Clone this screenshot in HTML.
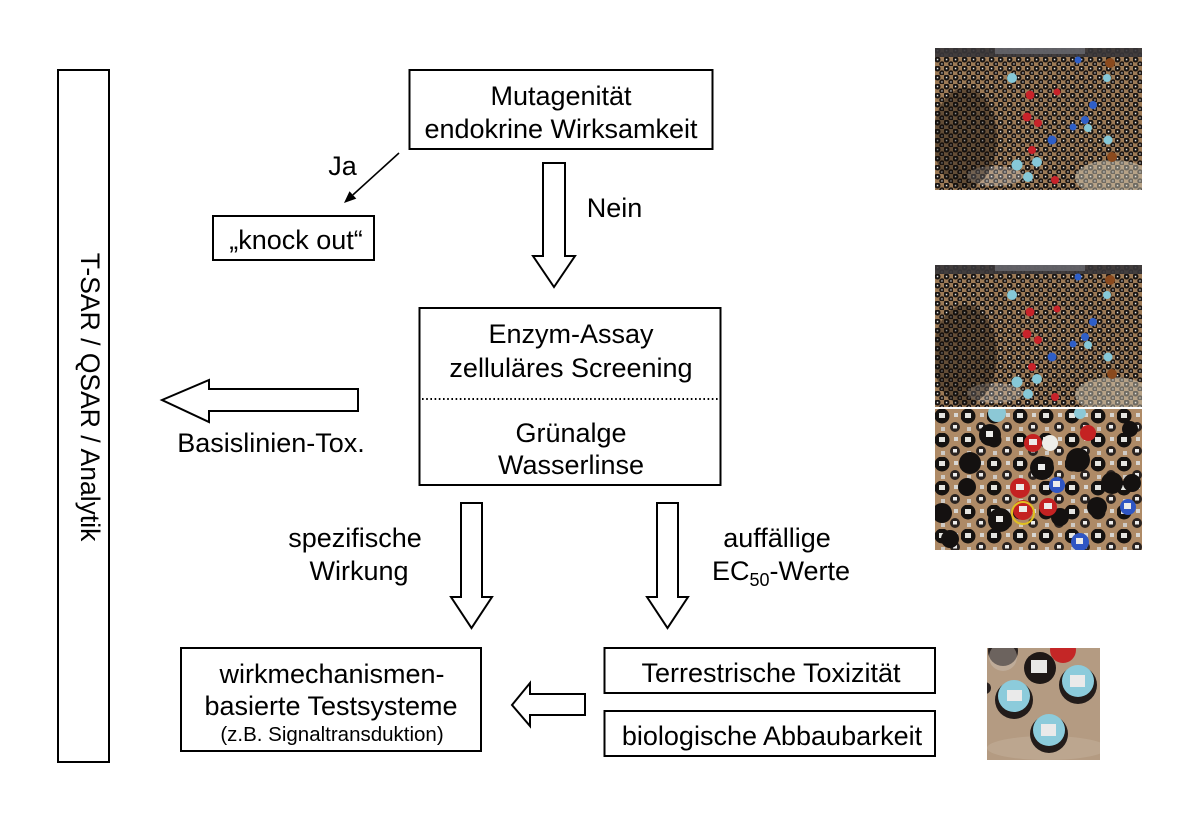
<!DOCTYPE html>
<html><head><meta charset="utf-8"><style>
html,body{margin:0;padding:0;background:#fff;}
svg{display:block;}
</style></head><body>
<svg width="1200" height="822" viewBox="0 0 1200 822" xmlns="http://www.w3.org/2000/svg" font-family="'Liberation Sans', Arial, sans-serif">
<defs>
<pattern id="pa" width="9" height="9" patternUnits="userSpaceOnUse">
 <rect width="9" height="9" fill="#9c7a56"/>
 <circle cx="2.5" cy="2.5" r="3.0" fill="#181412"/>
 <circle cx="7" cy="7" r="2.8" fill="#1e1815"/>
 <rect x="1.8" y="1.8" width="1.5" height="1.5" fill="#e6e6e6"/>
 <rect x="6.3" y="6.3" width="1.3" height="1.3" fill="#dcdcdc"/>
</pattern>
<pattern id="pb" width="26" height="24" patternUnits="userSpaceOnUse">
 <rect width="26" height="24" fill="#ae8a66"/>
 <circle cx="7" cy="7" r="7.5" fill="#151210"/>
 <rect x="4" y="4" width="6" height="5" fill="#e4e4e0"/>
 <circle cx="20" cy="18" r="5" fill="#2a2320"/>
 <rect x="18" y="16" width="4" height="3.5" fill="#ececec"/>
 <rect x="19" y="4" width="4" height="4" fill="#d8d6d2"/>
 <rect x="6" y="18" width="4" height="4" fill="#cfcac4"/>
</pattern>
<clipPath id="c1"><rect x="0" y="0" width="207" height="142"/></clipPath>
<clipPath id="c3"><rect x="0" y="0" width="207" height="141"/></clipPath>
<clipPath id="c4"><rect x="0" y="0" width="113" height="112"/></clipPath>
</defs>

<!-- Left vertical box -->
<rect x="58" y="70" width="51" height="692" fill="#fff" stroke="#000" stroke-width="2"/>
<text transform="translate(81,397) rotate(90)" text-anchor="middle" font-size="26.5">T-SAR / QSAR / Analytik</text>

<!-- Top box -->
<rect x="409.5" y="70" width="303" height="79" fill="#fff" stroke="#000" stroke-width="2"/>
<text x="561" y="105" text-anchor="middle" font-size="27">Mutagenität</text>
<text x="561" y="138" text-anchor="middle" font-size="27">endokrine Wirksamkeit</text>

<!-- Ja arrow -->
<line x1="399" y1="153" x2="352.9" y2="194.9" stroke="#000" stroke-width="1.6"/>
<polygon points="344,203 356.3,198.6 349.5,191.2" fill="#000"/>
<text x="342.5" y="175" text-anchor="middle" font-size="27">Ja</text>

<!-- knock out -->
<rect x="213" y="216" width="161" height="44" fill="#fff" stroke="#000" stroke-width="2"/>
<text x="296" y="249" text-anchor="middle" font-size="27">„knock out“</text>

<!-- Nein arrow -->
<polygon points="543,163 565,163 565,256 575,256 554,287 533,256 543,256" fill="#fff" stroke="#000" stroke-width="2" stroke-linejoin="miter"/>
<text x="614.5" y="217" text-anchor="middle" font-size="27">Nein</text>

<!-- Middle box -->
<rect x="419.5" y="308" width="301" height="177" fill="#fff" stroke="#000" stroke-width="2"/>
<text x="571" y="343" text-anchor="middle" font-size="27">Enzym-Assay</text>
<text x="571" y="377" text-anchor="middle" font-size="27">zelluläres Screening</text>
<line x1="422" y1="399" x2="719" y2="399" stroke="#000" stroke-width="2" stroke-dasharray="1.6 2.6"/>
<text x="571" y="442" text-anchor="middle" font-size="27">Grünalge</text>
<text x="571" y="474" text-anchor="middle" font-size="27">Wasserlinse</text>

<!-- Basislinien arrow -->
<polygon points="358,389 358,411 209,411 209,422 162,400 209,380 209,389" fill="#fff" stroke="#000" stroke-width="2"/>
<text x="271" y="452" text-anchor="middle" font-size="27">Basislinien-Tox.</text>

<!-- Down arrows -->
<polygon points="461,503 482,503 482,597 492,597 471.5,628 451,597 461,597" fill="#fff" stroke="#000" stroke-width="2"/>
<polygon points="657,503 678,503 678,597 688,597 667.5,628 647,597 657,597" fill="#fff" stroke="#000" stroke-width="2"/>
<text x="355" y="547" text-anchor="middle" font-size="27">spezifische</text>
<text x="359" y="580" text-anchor="middle" font-size="27">Wirkung</text>
<text x="777" y="547" text-anchor="middle" font-size="27">auffällige</text>
<text x="781" y="580" text-anchor="middle" font-size="27">EC<tspan font-size="18" dy="6">50</tspan><tspan dy="-6">-Werte</tspan></text>

<!-- Bottom left box -->
<rect x="181" y="648" width="300" height="103" fill="#fff" stroke="#000" stroke-width="2"/>
<text x="332" y="683" text-anchor="middle" font-size="27">wirkmechanismen-</text>
<text x="331" y="715" text-anchor="middle" font-size="27">basierte Testsysteme</text>
<text x="332" y="741" text-anchor="middle" font-size="20.5">(z.B. Signaltransduktion)</text>

<!-- Bottom left arrow -->
<polygon points="585,694 585,715 530,715 530,726 512,705 530,683 530,694" fill="#fff" stroke="#000" stroke-width="2"/>

<!-- Right boxes -->
<rect x="604.5" y="648" width="330.5" height="45" fill="#fff" stroke="#000" stroke-width="2"/>
<text x="771" y="682" text-anchor="middle" font-size="27">Terrestrische Toxizität</text>
<rect x="604.5" y="711" width="330.5" height="45" fill="#fff" stroke="#000" stroke-width="2"/>
<text x="772" y="745" text-anchor="middle" font-size="27">biologische Abbaubarkeit</text>

<!-- Photo 1 -->
<g transform="translate(935,48)" clip-path="url(#c1)">
 <rect width="207" height="142" fill="url(#pa)"/>
 <rect width="207" height="9" fill="#38363a" opacity="0.9"/>
 <rect x="60" y="0" width="90" height="6" fill="#6a6a70" opacity="0.8"/>
 <ellipse cx="178" cy="130" rx="38" ry="18" fill="#d8d2c4" opacity="0.45"/>
 <ellipse cx="60" cy="128" rx="28" ry="10" fill="#e8e8e8" opacity="0.3"/>
 <ellipse cx="30" cy="90" rx="32" ry="50" fill="#0e0a08" opacity="0.4"/>
 <g fill="#c8232a"><circle cx="95" cy="47" r="4.5"/><circle cx="92" cy="69" r="4.5"/><circle cx="103" cy="75" r="4"/><circle cx="97" cy="102" r="4"/><circle cx="122" cy="44" r="3.5"/><circle cx="120" cy="132" r="4"/></g>
 <g fill="#2f5fc8"><circle cx="143" cy="12" r="3.5"/><circle cx="158" cy="57" r="4"/><circle cx="150" cy="72" r="4"/><circle cx="117" cy="92" r="4.5"/><circle cx="138" cy="79" r="3.5"/></g>
 <g fill="#86c8d8"><circle cx="77" cy="30" r="5"/><circle cx="172" cy="30" r="4"/><circle cx="82" cy="117" r="5.5"/><circle cx="102" cy="114" r="5"/><circle cx="93" cy="129" r="5"/><circle cx="173" cy="92" r="4.5"/><circle cx="153" cy="80" r="4"/></g>
 <g fill="#8a4a1e"><circle cx="175" cy="15" r="5"/><circle cx="177" cy="109" r="5"/></g>
</g>

<!-- Photo 2 -->
<g transform="translate(935,265)" clip-path="url(#c1)">
 <rect width="207" height="142" fill="url(#pa)"/>
 <rect width="207" height="9" fill="#38363a" opacity="0.9"/>
 <rect x="60" y="0" width="90" height="6" fill="#6a6a70" opacity="0.8"/>
 <ellipse cx="178" cy="130" rx="38" ry="18" fill="#d8d2c4" opacity="0.45"/>
 <ellipse cx="60" cy="128" rx="28" ry="10" fill="#e8e8e8" opacity="0.3"/>
 <ellipse cx="30" cy="90" rx="32" ry="50" fill="#0e0a08" opacity="0.4"/>
 <g fill="#c8232a"><circle cx="95" cy="47" r="4.5"/><circle cx="92" cy="69" r="4.5"/><circle cx="103" cy="75" r="4"/><circle cx="97" cy="102" r="4"/><circle cx="122" cy="44" r="3.5"/><circle cx="120" cy="132" r="4"/></g>
 <g fill="#2f5fc8"><circle cx="143" cy="12" r="3.5"/><circle cx="158" cy="57" r="4"/><circle cx="150" cy="72" r="4"/><circle cx="117" cy="92" r="4.5"/><circle cx="138" cy="79" r="3.5"/></g>
 <g fill="#86c8d8"><circle cx="77" cy="30" r="5"/><circle cx="172" cy="30" r="4"/><circle cx="82" cy="117" r="5.5"/><circle cx="102" cy="114" r="5"/><circle cx="93" cy="129" r="5"/><circle cx="173" cy="92" r="4.5"/><circle cx="153" cy="80" r="4"/></g>
 <g fill="#8a4a1e"><circle cx="175" cy="15" r="5"/><circle cx="177" cy="109" r="5"/></g>
</g>

<!-- Photo 3 -->
<g transform="translate(935,409)" clip-path="url(#c3)">
 <rect width="207" height="141" fill="url(#pb)"/>
 <g fill="#141110"><circle cx="55" cy="26" r="11"/><circle cx="35" cy="54" r="11"/><circle cx="107" cy="59" r="12"/><circle cx="143" cy="51" r="12"/><circle cx="177" cy="74" r="11"/><circle cx="7" cy="104" r="10"/><circle cx="65" cy="111" r="12"/><circle cx="32" cy="78" r="9"/><circle cx="197" cy="74" r="9"/><circle cx="162" cy="98" r="10"/><circle cx="125" cy="108" r="9"/><circle cx="15" cy="130" r="9"/><circle cx="195" cy="20" r="8"/></g>
 <g fill="#c42222"><circle cx="98" cy="34" r="9"/><circle cx="85" cy="79" r="10"/><circle cx="88" cy="101" r="10"/><circle cx="113" cy="98" r="9"/><circle cx="153" cy="24" r="8"/></g>
 <circle cx="88" cy="104" r="11" fill="none" stroke="#e0c020" stroke-width="2"/>
 <circle cx="115" cy="34" r="8" fill="#eeeeea"/>
 <g fill="#2f56c4"><circle cx="122" cy="76" r="8"/><circle cx="193" cy="98" r="8"/><circle cx="145" cy="133" r="9"/></g>
 <g fill="#8cc8d6"><circle cx="62" cy="4" r="9"/><circle cx="145" cy="4" r="6"/></g>
 <g fill="#ececea"><rect x="94" y="30" width="8" height="6"/><rect x="81" y="75" width="8" height="6"/><rect x="84" y="97" width="8" height="6"/><rect x="109" y="94" width="8" height="6"/><rect x="118" y="72" width="7" height="6"/><rect x="189" y="94" width="7" height="6"/><rect x="141" y="129" width="7" height="6"/><rect x="103" y="55" width="7" height="6"/><rect x="61" y="107" width="7" height="6"/><rect x="51" y="22" width="7" height="6"/></g>
</g>

<!-- Photo 4 -->
<g transform="translate(987,648)" clip-path="url(#c4)">
 <rect width="113" height="112" fill="#b49b82"/>
 <ellipse cx="60" cy="100" rx="60" ry="12" fill="#c2ad98" opacity="0.6"/>
 <circle cx="16" cy="3" r="15" fill="#2a2220"/>
 <circle cx="16" cy="9" r="14" fill="#cfc6bc" opacity="0.4"/>
 <circle cx="76" cy="2" r="13" fill="#c42626"/>
 <circle cx="53" cy="20" r="16" fill="#1e1816"/>
 <rect x="44" y="12" width="16" height="13" fill="#e8e8e6"/>
 <circle cx="-2" cy="40" r="6" fill="#2a2220"/>
 <circle cx="91" cy="37" r="19" fill="#231c1a"/>
 <circle cx="91" cy="33" r="16" fill="#8ccbdb"/>
 <rect x="83" y="27" width="15" height="12" fill="#eaeaea"/>
 <circle cx="27" cy="52" r="19" fill="#231c1a"/>
 <circle cx="27" cy="48" r="16" fill="#8ccbdb"/>
 <rect x="20" y="42" width="15" height="11" fill="#eaeaea"/>
 <circle cx="62" cy="86" r="19" fill="#231c1a"/>
 <circle cx="62" cy="82" r="16" fill="#8ccbdb"/>
 <rect x="54" y="76" width="15" height="12" fill="#eaeaea"/>
</g>
</svg>
</body></html>
